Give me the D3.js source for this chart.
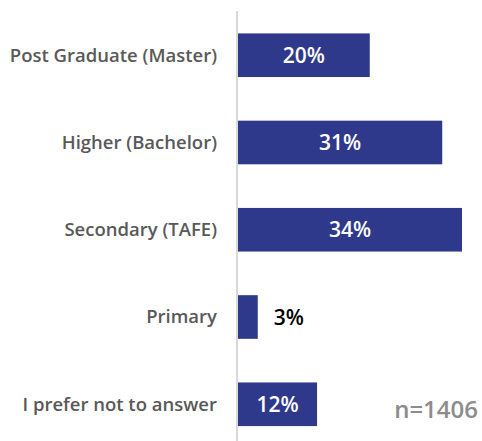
<!DOCTYPE html>
<html>
<head>
<meta charset="utf-8">
<script src="https://cdn.jsdelivr.net/npm/d3@7/dist/d3.min.js"></script>
<style>
  body { margin: 0; background: #fff; }
  svg { display: block; font-family: 'Open Sans', sans-serif; }
</style>
</head>
<body>
<div id="graf"></div>
<script>
// datos
categorias = ['Post Graduate (Master)', 'Higher (Bachelor)', 'Secondary (TAFE)', 'Primary', 'I prefer not to answer']
valores = [20, 31, 34, 3, 12]
muestra = 'n=1406'

ancho_total = 482
alto_total = 441

svg = d3.select('#graf').append('svg')
        .attr('width', ancho_total)
        .attr('height', alto_total)

ejeX = 237

x = d3.scaleLinear()
      .domain([0, 34])
      .range([ejeX + 1, 462])

y = d3.scaleBand()
      .domain(categorias)
      .range([11.6, 447.9])
      .paddingInner(0.5)
      .paddingOuter(0.25)

datos = categorias.map((c, i) => ({ cat: c, valor: valores[i] }))

// barras
svg.selectAll('rect.barra')
   .data(datos)
   .enter()
   .append('rect')
     .attr('class', 'barra')
     .attr('x', x(0))
     .attr('y', d => y(d.cat))
     .attr('width', d => x(d.valor) - x(0))
     .attr('height', y.bandwidth())
     .attr('fill', '#2f398b')

// línea del eje
svg.append('line')
   .attr('x1', ejeX).attr('x2', ejeX)
   .attr('y1', 11).attr('y2', alto_total)
   .attr('stroke', '#d9d9d9')
   .attr('stroke-width', 2)

// etiquetas de categoría
svg.selectAll('text.cat')
   .data(datos)
   .enter()
   .append('text')
     .attr('class', 'cat')
     .attr('x', 217)
     .attr('y', d => y(d.cat) + y.bandwidth() / 2)
     .attr('dy', '0.35em')
     .attr('text-anchor', 'end')
     .attr('fill', '#595959')
     .style('font-size', '18.5px')
     .style('font-weight', 600)
     .text(d => d.cat)

// valores
svg.selectAll('text.valor')
   .data(datos)
   .enter()
   .append('text')
     .attr('class', 'valor')
     .attr('x', d => d.valor < 5 ? x(d.valor) + 16 : (x(0) + x(d.valor)) / 2)
     .attr('y', d => y(d.cat) + y.bandwidth() / 2)
     .attr('dy', '0.36em')
     .attr('text-anchor', d => d.valor < 5 ? 'start' : 'middle')
     .attr('fill', d => d.valor < 5 ? '#000' : '#fff')
     .style('font-size', '21px')
     .style('font-weight', 600)
     .text(d => d.valor + '%')

// tamaño de la muestra
svg.append('text')
   .attr('x', 478)
   .attr('y', 418)
   .attr('text-anchor', 'end')
   .attr('fill', '#8c8c8c')
   .style('font-size', '24px')
   .style('font-weight', 600)
   .text(muestra)
</script>
</body>
</html>
